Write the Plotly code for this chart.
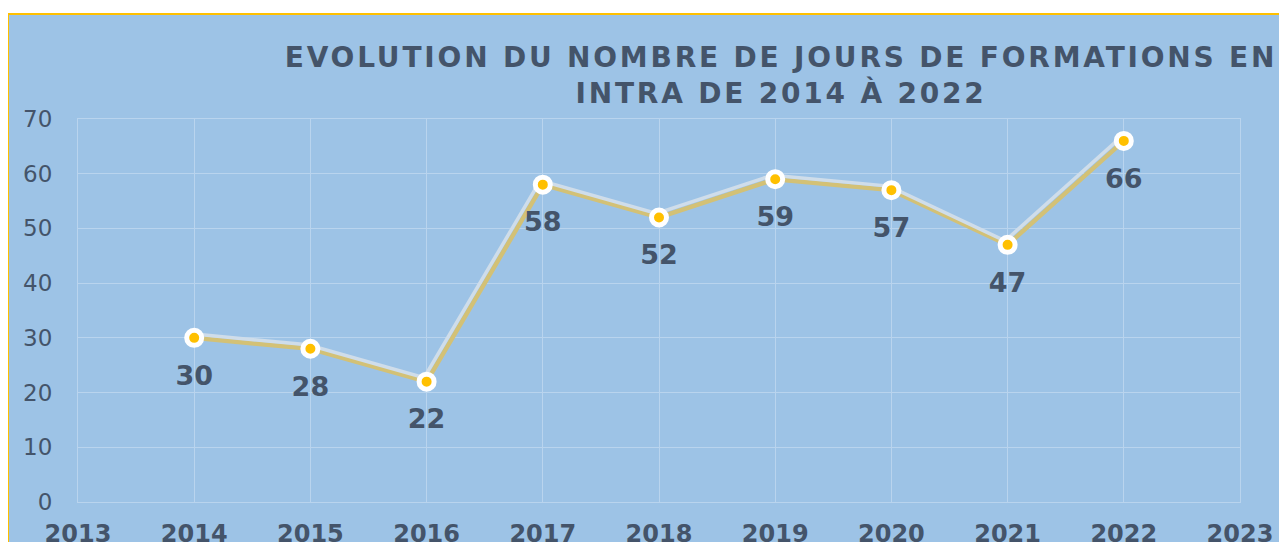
import plotly.graph_objects as go

# Données
annees = [2014, 2015, 2016, 2017, 2018, 2019, 2020, 2021, 2022]
jours = [30, 28, 22, 58, 52, 59, 57, 47, 66]
x_ticks = list(range(2013, 2024))
y_ticks = [0, 10, 20, 30, 40, 50, 60, 70]

TITRE = "EVOLUTION DU NOMBRE DE JOURS DE FORMATIONS EN<br>INTRA DE 2014 À 2022"

TEXT_COLOR = '#44546A'
BG_COLOR = '#9DC3E6'
GRID_COLOR = '#B9D4EE'
GOLD = '#FFC000'

# the page body adds an 8px margin, so the figure is a bit smaller than the window
OFF = 8
W, H = 1287 - OFF, 542 - OFF
L, R, T, B = 78 - OFF, 47, 119 - OFF, 40
px_x = (W - L - R) / 10.0
px_y = (H - T - B) / 70.0
sx, sy = 2.5, 4.0   # pixel offset between the light line and its golden shadow
label_gap = 40      # pixels between a point and the centre of its label


def spaced(txt):
    # wide letter spacing, line by line
    return '<br>'.join('<span style="letter-spacing:2.8px">%s</span>' % s for s in txt.split('<br>'))


fig = go.Figure()

# Golden shadow line
fig.add_trace(go.Scatter(
    x=annees, y=jours, mode='lines',
    line=dict(color='#D3C176', width=4.5),
    hoverinfo='skip', showlegend=False
))

# Light line on top, moved up-left through a shifted overlay axis pair
fig.add_trace(go.Scatter(
    x=annees, y=jours, mode='lines',
    line=dict(color='#CFDDEA', width=3.5),
    xaxis='x2', yaxis='y2', hoverinfo='skip', showlegend=False
))

# Markers (x3 overlay so they are drawn after the lines)
fig.add_trace(go.Scatter(
    x=annees, y=jours, mode='markers', xaxis='x3', yaxis='y4',
    marker=dict(size=15, color=GOLD, line=dict(color='white', width=5)),
    showlegend=False
))

# Data labels, under each point
fig.add_trace(go.Scatter(
    x=annees, y=jours, mode='text', xaxis='x3', yaxis='y3',
    text=[str(v) for v in jours],
    textposition='middle center',
    textfont=dict(family='DejaVu Sans', size=27, color=TEXT_COLOR, weight='bold'),
    cliponaxis=False, hoverinfo='skip', showlegend=False
))

fig.update_layout(
    width=W, height=H,
    margin=dict(l=L, r=R, t=T, b=B),
    paper_bgcolor='white',
    plot_bgcolor=BG_COLOR,
    title=dict(
        text=spaced(TITRE),
        font=dict(family='DejaVu Sans', size=28, color=TEXT_COLOR, weight='bold'),
        x=(781 - OFF - L) / (W - L - R), xref='paper', xanchor='center',
        y=1 - (67 - OFF) / H, yref='container', yanchor='top'
    ),
    xaxis=dict(
        range=[2013, 2023], tickvals=x_ticks, ticks='',
        showgrid=True, gridcolor=GRID_COLOR, gridwidth=1,
        showline=True, linecolor=GRID_COLOR, linewidth=1, mirror=True,
        zeroline=False, ticklabelstandoff=10, automargin=False,
        tickfont=dict(family='DejaVu Sans', size=24, color=TEXT_COLOR, weight='bold')
    ),
    yaxis=dict(
        range=[0, 70], tickvals=y_ticks, ticks='',
        showgrid=True, gridcolor=GRID_COLOR, gridwidth=1,
        showline=True, linecolor=GRID_COLOR, linewidth=1, mirror=True,
        zeroline=False, ticklabelstandoff=20, automargin=False,
        tickfont=dict(family='DejaVu Sans', size=23, color=TEXT_COLOR)
    ),
    xaxis2=dict(
        overlaying='x', visible=False,
        range=[2013 + sx / px_x, 2023 + sx / px_x]
    ),
    yaxis2=dict(
        overlaying='y', visible=False,
        range=[0 - sy / px_y, 70 - sy / px_y]
    ),
    xaxis3=dict(overlaying='x', visible=False, range=[2013, 2023]),
    yaxis3=dict(
        overlaying='y', visible=False,
        range=[0 + label_gap / px_y, 70 + label_gap / px_y]
    ),
    yaxis4=dict(overlaying='y', visible=False, range=[0, 70]),
    shapes=[dict(
        type='rect', xref='paper', yref='paper', layer='below',
        x0=(0 - L) / (W - L - R), x1=1.2,
        y0=-0.3, y1=(H - B - (14 - OFF)) / (H - T - B),
        fillcolor=BG_COLOR, line=dict(color=GOLD, width=2)
    )]
)

fig.write_html("out.html")
